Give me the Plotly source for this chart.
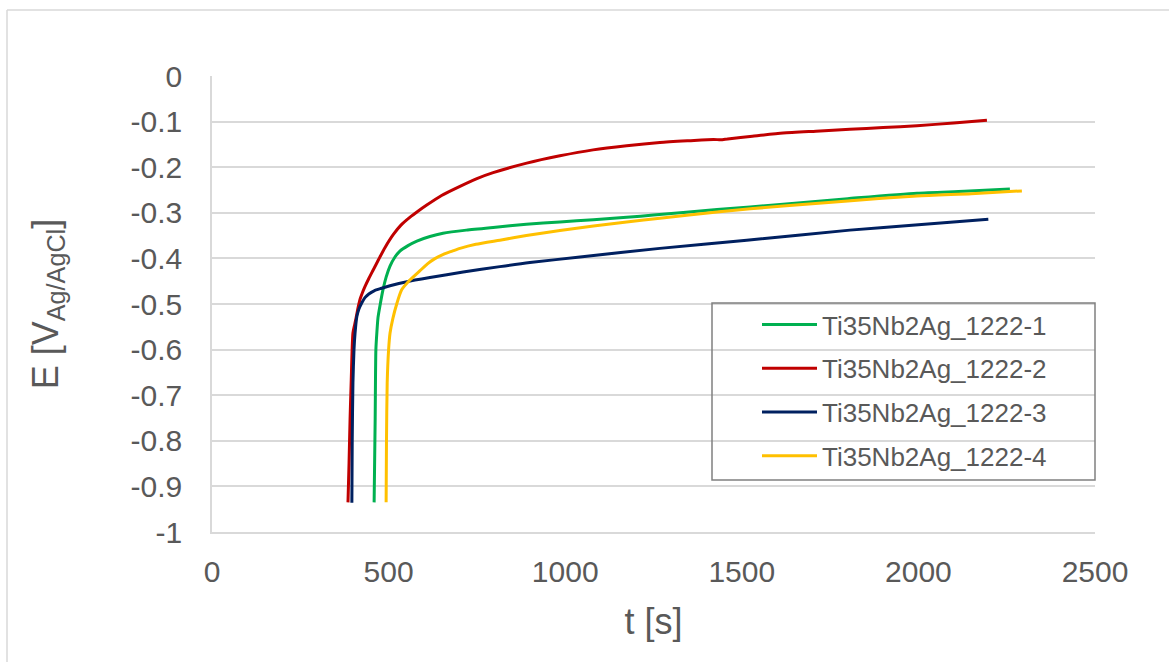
import plotly.graph_objects as go

# ---- data ----
t1 = [459, 462, 464, 467, 470, 476, 484, 493, 504, 518, 532, 555, 580, 617, 654, 720, 796, 890, 985, 1080, 1174, 1250, 1430, 1617, 1800, 1996, 2130, 2259]
e1 = [-0.935, -0.75, -0.60, -0.56, -0.53, -0.502, -0.469, -0.441, -0.417, -0.397, -0.384, -0.372, -0.362, -0.352, -0.345, -0.338, -0.332, -0.325, -0.32, -0.315, -0.31, -0.305, -0.293, -0.281, -0.269, -0.257, -0.253, -0.248]

t2 = [385, 388, 391, 394, 399, 404, 408, 413, 419, 425, 433, 444, 456, 472, 490, 513, 535, 560, 584, 608, 650, 702, 750, 796, 891, 985, 1079, 1174, 1268, 1350, 1420, 1440, 1460, 1530, 1617, 1710, 1806, 1900, 1996, 2100, 2194]
e2 = [-0.935, -0.85, -0.75, -0.673, -0.564, -0.545, -0.53, -0.51, -0.49, -0.477, -0.462, -0.444, -0.426, -0.402, -0.376, -0.348, -0.327, -0.310, -0.296, -0.283, -0.262, -0.242, -0.225, -0.212, -0.191, -0.175, -0.162, -0.153, -0.146, -0.142, -0.139, -0.140, -0.138, -0.132, -0.125, -0.121, -0.117, -0.113, -0.109, -0.103, -0.097]

t3 = [396, 397, 399, 402, 405, 410, 416, 425, 433, 444, 459, 478, 504, 552, 617, 711, 815, 900, 1042, 1268, 1514, 1806, 2000, 2198]
e3 = [-0.936, -0.80, -0.673, -0.60, -0.564, -0.528, -0.511, -0.496, -0.486, -0.478, -0.471, -0.466, -0.46, -0.451, -0.442, -0.43, -0.418, -0.409, -0.397, -0.378, -0.36, -0.338, -0.326, -0.314]

t4 = [493, 494, 496, 500, 504, 512, 523, 537, 561, 589, 610, 630, 655, 680, 702, 747, 815, 890, 985, 1080, 1174, 1268, 1430, 1617, 1800, 1996, 2150, 2293]
e4 = [-0.935, -0.80, -0.673, -0.60, -0.564, -0.532, -0.50, -0.469, -0.447, -0.427, -0.412, -0.401, -0.391, -0.384, -0.378, -0.369, -0.36, -0.35, -0.339, -0.329, -0.32, -0.312, -0.298, -0.285, -0.274, -0.263, -0.258, -0.252]

names = ["Ti35Nb2Ag_1222-1", "Ti35Nb2Ag_1222-2", "Ti35Nb2Ag_1222-3", "Ti35Nb2Ag_1222-4"]
colors = ["#00B050", "#C00000", "#002060", "#FFC000"]

y_tickvals = [0, -0.1, -0.2, -0.3, -0.4, -0.5, -0.6, -0.7, -0.8, -0.9, -1]
y_ticktext = ["0", "-0.1", "-0.2", "-0.3", "-0.4", "-0.5", "-0.6", "-0.7", "-0.8", "-0.9", "-1"]
x_tickvals = [0, 500, 1000, 1500, 2000, 2500]

# ---- layout geometry ----
W, H = 1169, 662
L, R, T, B = 212, 74, 76, 130
pw, ph = W - L - R, H - T - B

def px(x):
    return (x - L) / pw

def py(y):
    return (H - B - y) / ph

fig = go.Figure()
for i, (tt, ee) in enumerate([(t1, e1), (t2, e2), (t3, e3), (t4, e4)]):
    fig.add_trace(go.Scatter(x=tt, y=ee, mode="lines", name=names[i],
                             line=dict(color=colors[i], width=3, shape="spline", smoothing=0.6),
                             legendgroup=f"g{i}"))

grey = "#595959"
fig.update_layout(
    width=W, height=H,
    margin=dict(l=L, r=R, t=T, b=B, pad=0),
    paper_bgcolor="white", plot_bgcolor="white",
    font=dict(family="Liberation Sans, Arial, sans-serif", color=grey),
    showlegend=True,
    legend=dict(x=px(757), y=py(301), xanchor="left", yanchor="top",
                bgcolor="rgba(0,0,0,0)", borderwidth=0,
                font=dict(size=26, color=grey),
                traceorder="grouped", tracegroupgap=7, itemwidth=55),
    xaxis=dict(range=[0, 2500], tickvals=x_tickvals, showgrid=False,
               zeroline=False, showline=True, linecolor="#D9D9D9", linewidth=1.5,
               ticks="", tickfont=dict(size=30, color=grey), ticklabelstandoff=12,
               title=dict(text="t [s]", font=dict(size=36, color=grey), standoff=22)),
    yaxis=dict(range=[-1, 0], tickvals=y_tickvals, ticktext=y_ticktext,
               showgrid=True, gridcolor="#D9D9D9", gridwidth=1.5,
               zeroline=False, showline=True, linecolor="#D9D9D9", linewidth=1.5,
               ticks="", tickfont=dict(size=30, color=grey), ticklabelstandoff=22,
               title=dict(text="E [V<sub>Ag/AgCl</sub>]", font=dict(size=36, color=grey), standoff=61)),
    shapes=[
        dict(type="rect", xref="paper", yref="paper",
             x0=px(712), x1=px(1095), y0=py(480), y1=py(303),
             line=dict(color="#808080", width=1.5), fillcolor="rgba(0,0,0,0)", layer="above"),
        dict(type="line", xref="paper", yref="paper",
             x0=px(7), x1=px(7), y0=py(10), y1=py(700),
             line=dict(color="#D9D9D9", width=1.5)),
        dict(type="line", xref="paper", yref="paper",
             x0=px(7), x1=px(1200), y0=py(10), y1=py(10),
             line=dict(color="#D9D9D9", width=1.5)),
    ],
)

fig.write_html("out.html")
